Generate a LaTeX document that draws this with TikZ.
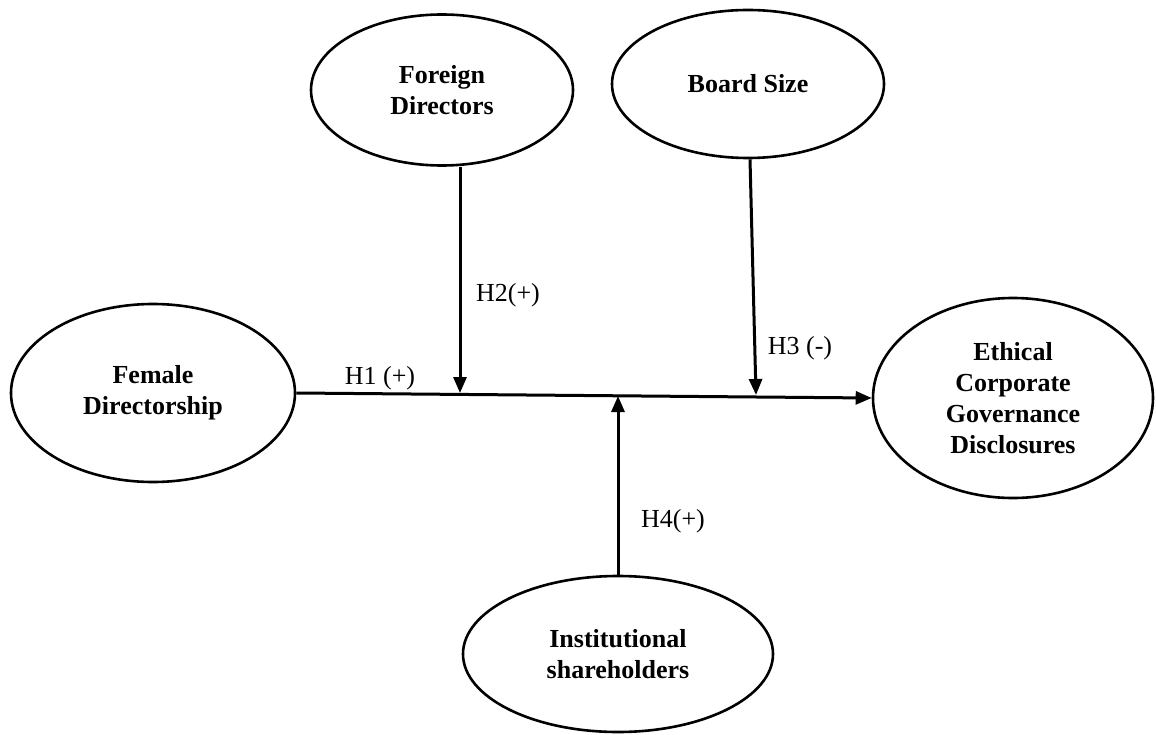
\documentclass[tikz,border=0pt]{standalone}
\usepackage{fontspec}
\setmainfont{Liberation Serif}
\usepackage{tikz}
\usetikzlibrary{shapes.geometric,arrows.meta,calc}

\begin{document}
\begin{tikzpicture}[x=1pt, y=-1pt,
    var/.style={ellipse, draw, line width=2.6pt, inner sep=0pt, align=center, font=\fontsize{26}{31}\selectfont\bfseries},
    hyp/.style={font=\fontsize{26}{28}\selectfont},
    link/.style={line width=3pt, -{Triangle[length=16pt,width=13pt]}}]
    \useasboundingbox (0,0) rectangle (1156,735);

    % Constructs
    \node[var, minimum width=262pt, minimum height=151pt] (foreign) at (442,90) {Foreign\\Directors};
    \node[var, minimum width=272pt, minimum height=148pt] (board) at (748,84) {Board Size};
    \node[var, minimum width=284pt, minimum height=178pt] (female) at (153,393) {Female\\Directorship};
    \node[var, minimum width=280pt, minimum height=200pt] (ecgd) at (1013,398) {Ethical\\Corporate\\Governance\\Disclosures};
    \node[var, minimum width=310pt, minimum height=156pt] (inst) at (618,654) {Institutional\\shareholders};

    % Points where the moderators meet the main path
    \coordinate (m2) at (460,393);
    \coordinate (m3) at (756,395);
    \coordinate (m4) at (618,396);

    % Main path
    \draw[link] (female.east) -- (ecgd.west);

    % Moderators
    \draw[link] ($(foreign.south)+(18,0)$) -- (m2);
    \draw[link] ($(board.south)+(2,0)$) -- (m3);
    \draw[link] (inst.north) -- (m4);

    % Hypotheses
    \node[hyp] (h1) at (380,378) {H1 (+)};
    \node[hyp] (h2) at (508,295) {H2(+)};
    \node[hyp] (h3) at (800,348) {H3 (-)};
    \node[hyp] (h4) at (673,521) {H4(+)};
\end{tikzpicture}
\end{document}
